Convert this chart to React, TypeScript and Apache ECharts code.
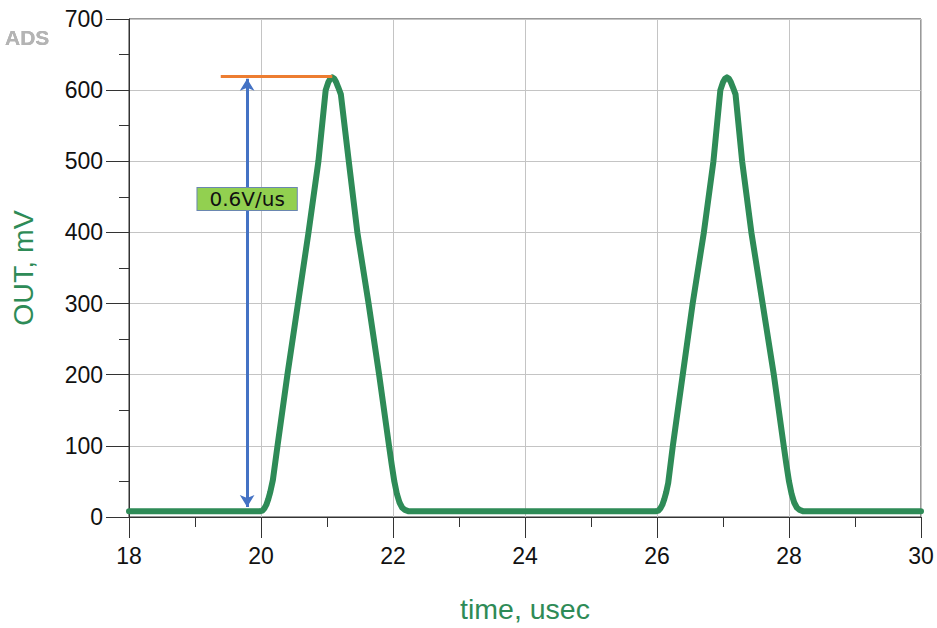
import React, { useEffect, useRef } from "react";
import * as echarts from "echarts";

// time (usec) and OUT (mV)
const timeUs = [
  18, 19.98, 20.02, 20.05, 20.08, 20.11, 20.14, 20.18, 20.25, 20.4, 20.56, 20.72, 20.87, 20.98, 21.02, 21.05, 21.08,
  21.11, 21.14, 21.17, 21.21, 21.33, 21.46, 21.63, 21.79, 21.94, 21.98, 22.02, 22.06, 22.1, 22.14, 22.18, 22.24,
  25.98, 26.02, 26.05, 26.08, 26.11, 26.14, 26.17, 26.24, 26.39, 26.54, 26.71, 26.855, 26.96, 27.0, 27.03, 27.06,
  27.09, 27.12, 27.15, 27.19, 27.29, 27.43, 27.6, 27.77, 27.92, 27.96, 28.0, 28.04, 28.08, 28.12, 28.16, 28.22, 30,
];
const outMv = [
  8, 8, 9, 12, 17, 25, 35, 52, 100, 200, 300, 400, 500, 600, 611, 616, 618,
  616, 611, 604, 594, 500, 400, 300, 200, 100, 74, 50, 32, 20, 13, 10, 8,
  8, 9, 12, 17, 25, 35, 48, 100, 200, 300, 400, 500, 600, 611, 616, 618,
  616, 611, 604, 594, 500, 400, 300, 200, 100, 74, 50, 32, 20, 13, 10, 8, 8,
];

// annotations (data units)
const arrowX = 19.79;
const arrowY = [14, 616];
const peakLineX = [19.39, 21.08];
const peakLineY = 620;
const slopeLabel = "0.6V/us";
const slopeLabelPos = [19.79, 447];

const xRange = [18, 30];
const yRange = [0, 700];

export default function App() {
  const ref = useRef<HTMLDivElement>(null);
  useEffect(() => {
    const chart = echarts.init(ref.current!, null, { renderer: "svg" });
    const data = timeUs.map((t, i) => [t, outMv[i]]);
    const green = "#2E8B57";
    const font = "'Liberation Sans', Arial, sans-serif";
    chart.setOption({
      animation: false,
      backgroundColor: "#ffffff",
      grid: {
        left: 128,
        right: 16,
        top: 19,
        bottom: 107.5,
        show: true,
        borderColor: "#333",
        borderWidth: 1,
      },
      graphic: [
        {
          type: "text",
          left: 5,
          top: 27,
          style: {
            text: "ADS",
            font: "bold 21px 'Liberation Sans', Arial, sans-serif",
            fill: "#b4b4b4",
            textShadowColor: "rgba(0,0,0,0.55)",
            textShadowBlur: 1.5,
          },
        },
      ],
      xAxis: {
        type: "value",
        min: xRange[0],
        max: xRange[1],
        interval: 2,
        name: "time, usec",
        nameLocation: "middle",
        nameGap: 77,
        nameTextStyle: { color: green, fontSize: 28.5, fontFamily: font },
        axisLine: { show: true, lineStyle: { color: "#333", width: 1 } },
        axisTick: { show: true, length: 21, lineStyle: { color: "#333" } },
        minorTick: { show: true, splitNumber: 2, length: 10, lineStyle: { color: "#333" } },
        splitLine: { show: true, lineStyle: { color: "#c4c4c4", width: 1 } },
        axisLabel: { color: "#111", fontSize: 23, margin: 27, fontFamily: font },
      },
      yAxis: {
        type: "value",
        min: yRange[0],
        max: yRange[1],
        interval: 100,
        name: "OUT, mV",
        nameLocation: "middle",
        nameGap: 92,
        nameTextStyle: { color: green, fontSize: 28.5, fontFamily: font },
        axisLine: { show: true, lineStyle: { color: "#333", width: 1 } },
        axisTick: { show: true, length: 23, lineStyle: { color: "#333" } },
        minorTick: { show: true, splitNumber: 2, length: 10, lineStyle: { color: "#333" } },
        splitLine: { show: true, lineStyle: { color: "#c4c4c4", width: 1 } },
        axisLabel: { color: "#111", fontSize: 23, margin: 26, fontFamily: font },
      },
      series: [
        {
          type: "line",
          data,
          showSymbol: false,
          symbol: "none",
          smooth: false,
          lineStyle: { color: green, width: 6, join: "round", cap: "round" },
          z: 3,
          markLine: {
            silent: true,
            animation: false,
            label: { show: false },
            symbol: ["none", "none"],
            data: [
              [
                {
                  coord: [arrowX, arrowY[0]],
                  symbol: "arrow",
                  symbolSize: [11, 12],
                  lineStyle: { color: "#4472C4", width: 3, type: "solid" },
                },
                { coord: [arrowX, arrowY[1]], symbol: "arrow", symbolSize: [11, 12] },
              ],
              [
                {
                  coord: [peakLineX[0], peakLineY],
                  symbol: "none",
                  lineStyle: { color: "#ED7D31", width: 3, type: "solid" },
                },
                { coord: [peakLineX[1], peakLineY], symbol: "none" },
              ],
            ],
          },
          markPoint: {
            silent: true,
            animation: false,
            data: [
              {
                coord: slopeLabelPos,
                symbol: "circle",
                symbolSize: 0,
                itemStyle: { color: "transparent" },
                label: {
                  show: true,
                  position: "inside",
                  formatter: slopeLabel,
                  color: "#111",
                  fontSize: 20,
                  fontFamily: "'DejaVu Sans', sans-serif",
                  backgroundColor: "#92D050",
                  borderColor: "#6a87b0",
                  borderWidth: 1,
                  lineHeight: 21,
                  padding: [1, 12, 0, 12],
                },
              },
            ],
          },
        },
      ],
    });
    return () => chart.dispose();
  }, []);
  return (
    <div
      ref={ref}
      style={{ position: "fixed", left: 0, top: 0, width: 937, height: 628, background: "#fff" }}
    />
  );
}
